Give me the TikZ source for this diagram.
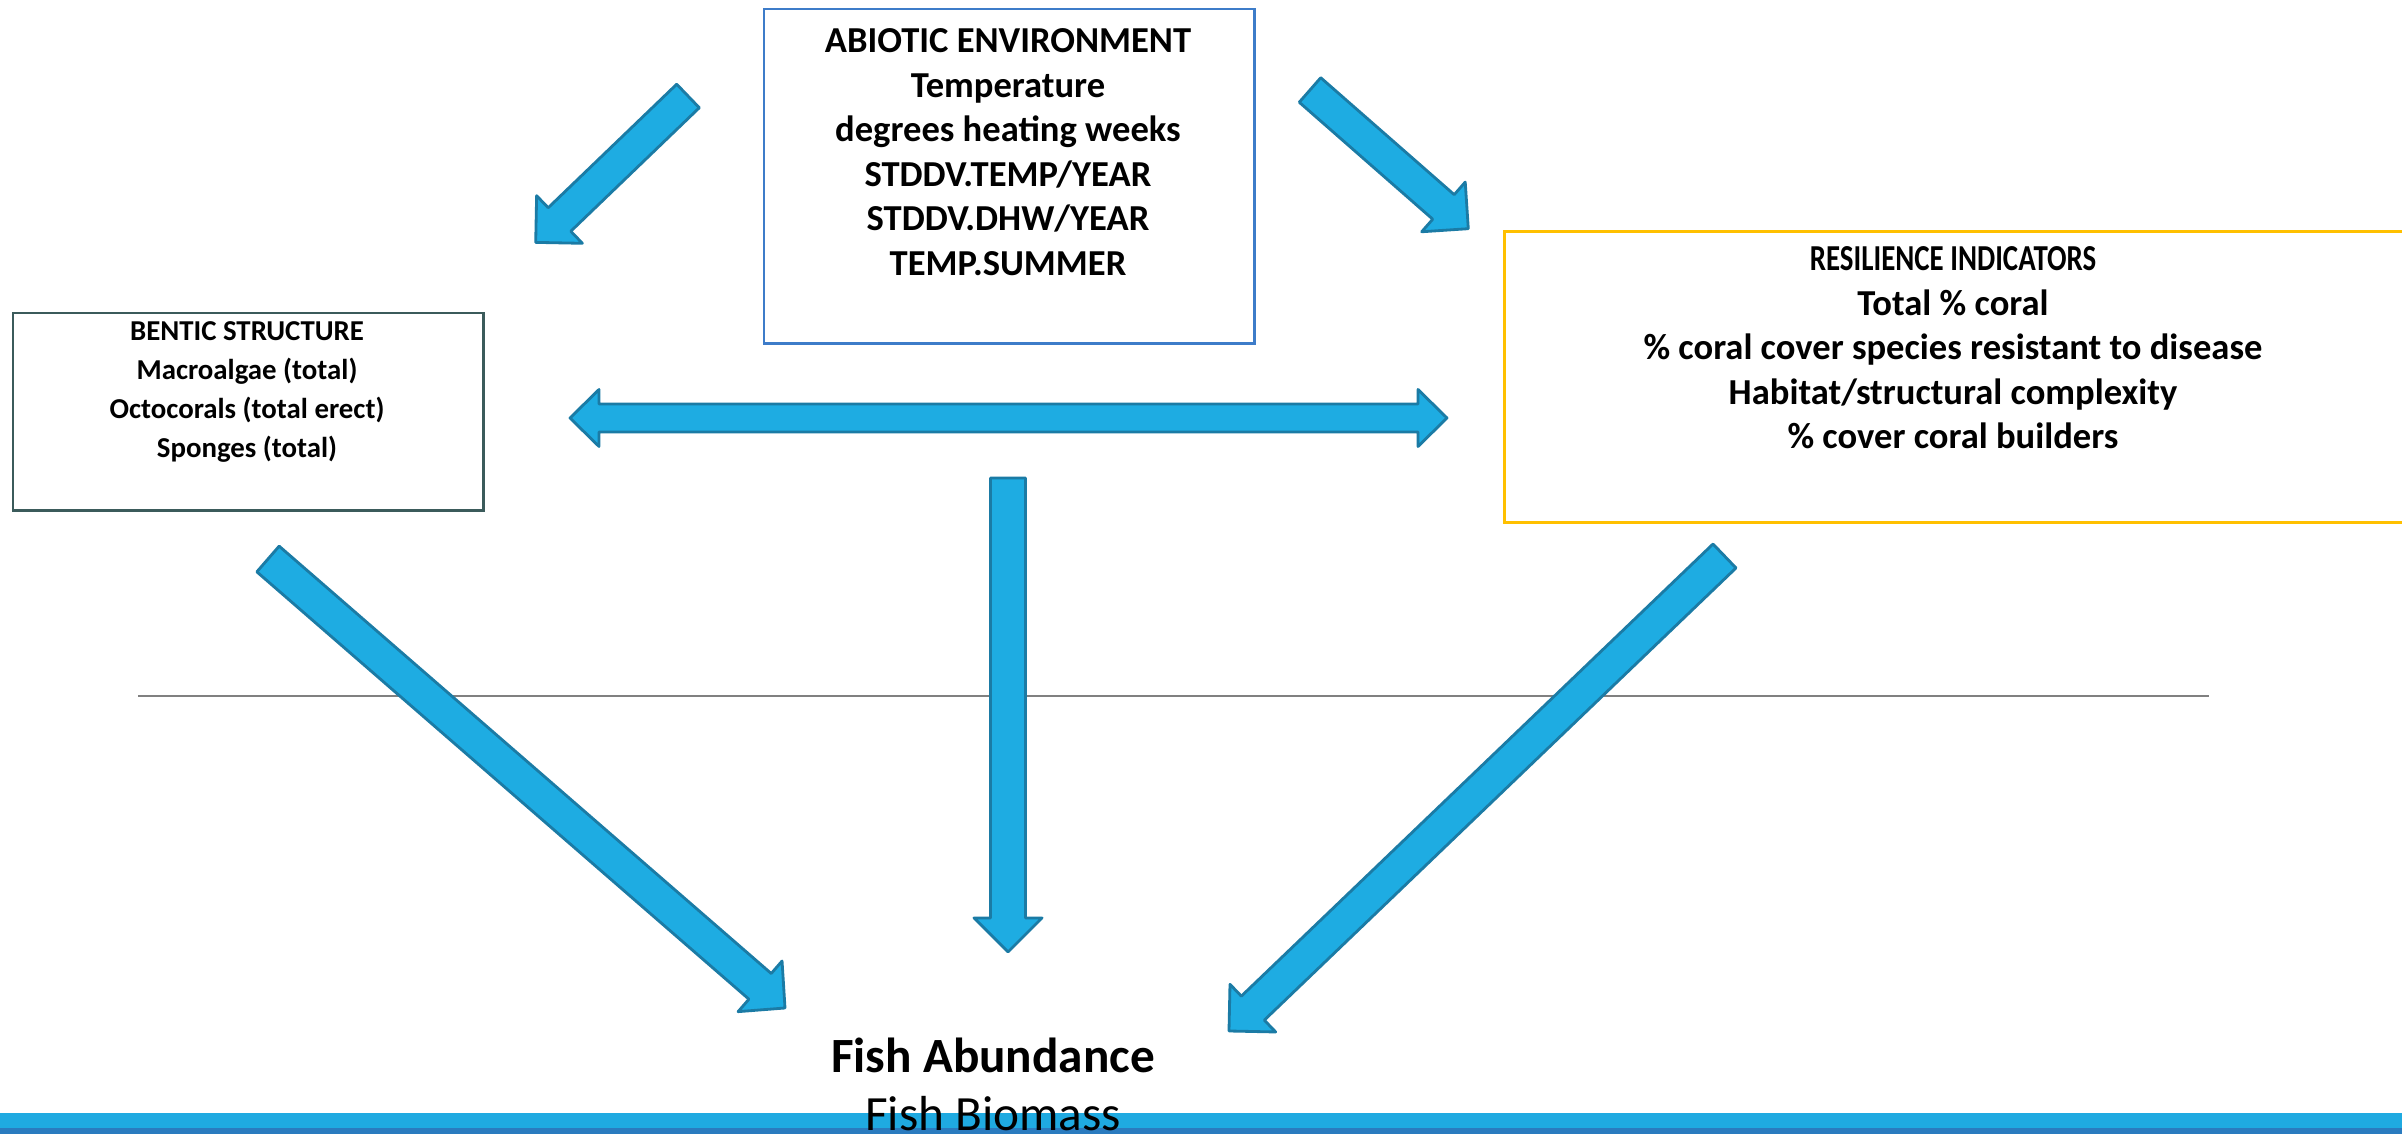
\documentclass[tikz,border=0pt]{standalone}
\usepackage{fontspec}
\setmainfont{Carlito}
\newfontfamily\condfont[FakeStretch=0.79]{Carlito}
\usetikzlibrary{calc}
\definecolor{arrowfill}{HTML}{1EACE2}
\definecolor{arrowline}{HTML}{1B7BA5}
\definecolor{boxblue}{HTML}{3D7CC9}
\definecolor{boxslate}{HTML}{3B5B5B}
\definecolor{boxgold}{HTML}{FFC000}
\definecolor{bandlight}{HTML}{1FAAE1}
\definecolor{banddark}{HTML}{2A7BBF}
\definecolor{rulegray}{HTML}{808080}
\tikzset{
  blockarr/.style={fill=arrowfill, draw=arrowline, line width=0.8pt, line join=round},
  boxnode/.style={rectangle, inner sep=0pt, anchor=north west},
  boxtext/.style={align=center, inner sep=0pt, text=black},
}
% tail, tip, shaft half-width, head half-width, head length
\newcommand{\blockarrow}[5]{%
  \coordinate (hb) at ($(#2)!#5!(#1)$);
  \draw[blockarr] ($(#1)!#3!90:(#2)$) -- ($(hb)!#3!-90:(#1)$) -- ($(hb)!#4!-90:(#1)$) -- (#2)
    -- ($(hb)!#4!90:(#1)$) -- ($(hb)!#3!90:(#1)$) -- ($(#1)!#3!-90:(#2)$) -- cycle;
}
\begin{document}
\begin{tikzpicture}[x=0.01cm, y=-0.01cm]
\useasboundingbox (0,0) rectangle (2402,1134);
\clip (0,0) rectangle (2402,1134);
\fill[white] (0,0) rectangle (2402,1134);

% separator line
\coordinate (ruleL) at (138,696);
\coordinate (ruleR) at (2209,696);
\draw[rulegray, line width=0.55pt] (ruleL) -- (ruleR);

% boxes
\node[boxnode, draw=boxblue, line width=0.7pt, minimum width=4.90cm, minimum height=3.34cm] (abiotic) at (763,8) {};
\node[boxnode, draw=boxslate, line width=0.7pt, minimum width=4.70cm, minimum height=1.97cm] (bentic) at (12,312) {};
\node[boxnode, draw=boxgold, line width=0.8pt, minimum width=9.20cm, minimum height=2.91cm] (resil) at (1503,230) {};

\node[boxtext, font=\fontsize{10.4}{12.65}\selectfont\bfseries] (abiotictext) at (1008,152)
  {ABIOTIC ENVIRONMENT\\Temperature\\degrees heating weeks\\STDDV.TEMP/YEAR\\STDDV.DHW/YEAR\\TEMP.SUMMER};
\node[boxtext, font=\fontsize{8.2}{11.0}\selectfont\bfseries] (bentictext) at (247,392)
  {BENTIC STRUCTURE\\Macroalgae (total)\\Octocorals (total erect)\\Sponges (total)};
\node[boxtext, font=\fontsize{10.4}{12.65}\selectfont\bfseries] (resiltext) at (1953,348)
  {{\condfont\fontsize{10.4}{12.65}\selectfont\bfseries RESILIENCE INDICATORS}\\Total \% coral\\\% coral cover species resistant to disease\\Habitat/structural complexity\\\% cover coral builders};

% arrows
\coordinate (a1t) at (688,96);    \coordinate (a1h) at (535.7,242.4);
\coordinate (a2t) at (1310,90);   \coordinate (a2h) at (1468.3,228.7);
\coordinate (a5t) at (268,559);   \coordinate (a5h) at (785,1008);
\coordinate (a6t) at (1724.5,556);\coordinate (a6h) at (1229,1031);
\coordinate (vt) at (1008,478);   \coordinate (vh) at (1008,952);
\coordinate (dl) at (570,418);    \coordinate (dr) at (1447,418);

\blockarrow{a1t}{a1h}{0.163cm}{0.33cm}{0.33cm}
\blockarrow{a2t}{a2h}{0.163cm}{0.33cm}{0.33cm}
\blockarrow{a5t}{a5h}{0.17cm}{0.335cm}{0.33cm}
\blockarrow{a6t}{a6h}{0.166cm}{0.33cm}{0.33cm}
\blockarrow{vt}{vh}{0.175cm}{0.34cm}{0.34cm}
\draw[blockarr] (dl) -- ($(dl)+(29,-28.5)$) -- ($(dl)+(29,-14)$) -- ($(dr)+(-29,-14)$) -- ($(dr)+(-29,-28.5)$)
  -- (dr) -- ($(dr)+(-29,28.5)$) -- ($(dr)+(-29,14)$) -- ($(dl)+(29,14)$) -- ($(dl)+(29,28.5)$) -- cycle;

% bottom band
\fill[bandlight] (0,1113) rectangle (2402,1128);
\fill[banddark] (0,1128) rectangle (2402,1134);

% fish labels
\node[anchor=base, inner sep=0pt, font=\fontsize{14}{17}\selectfont\bfseries] (fishab) at (993,1073) {Fish Abundance};
\node[anchor=base, inner sep=0pt, font=\fontsize{14}{17}\selectfont] (fishbio) at (993,1130) {Fish Biomass};
\end{tikzpicture}
\end{document}
